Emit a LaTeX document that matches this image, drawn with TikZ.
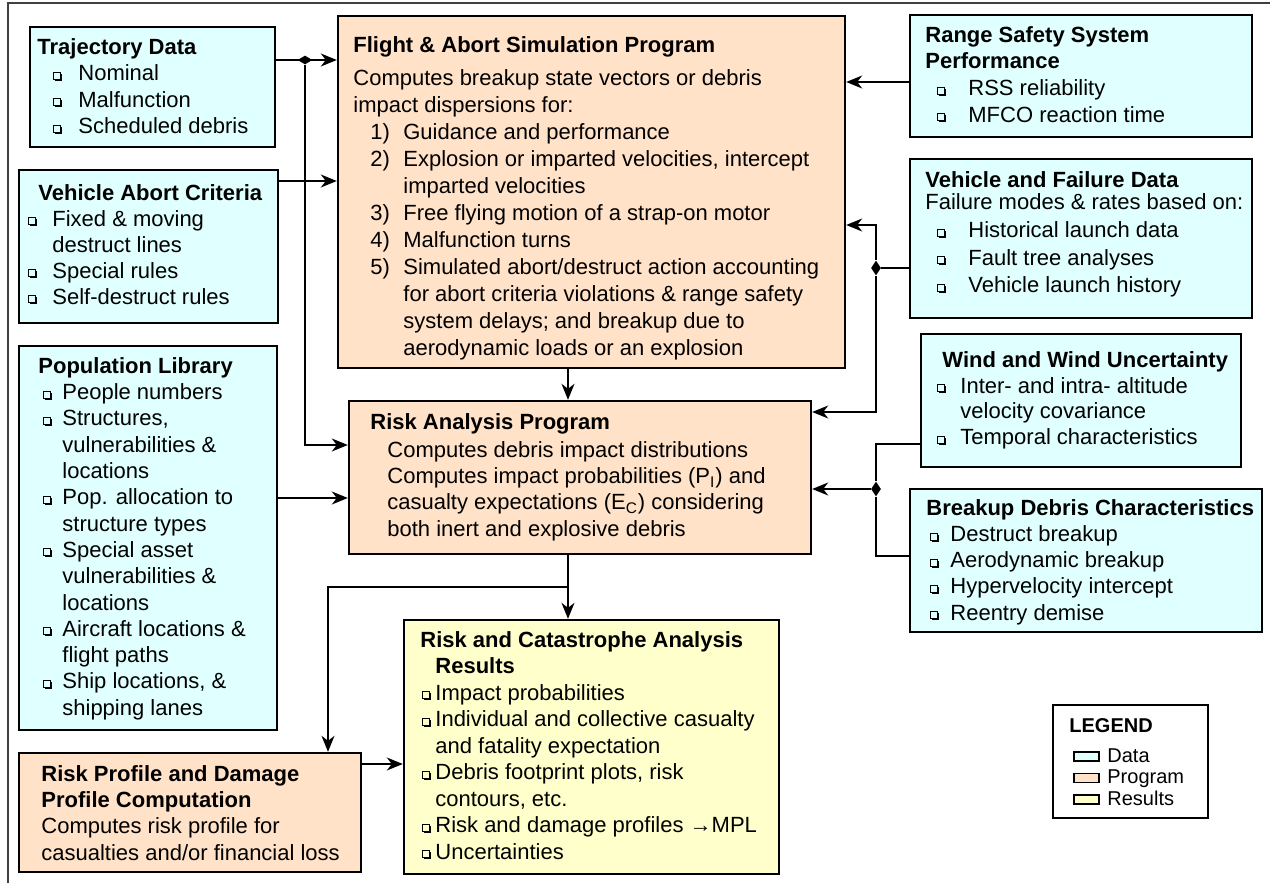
\documentclass[tikz,border=0pt]{standalone}
\usepackage{fontspec}
\setmainfont{Liberation Sans}
\usetikzlibrary{arrows.meta,fit,shapes.geometric}
\definecolor{datacol}{RGB}{224,255,255}
\definecolor{progcol}{RGB}{255,226,200}
\definecolor{rescol}{RGB}{255,255,204}
\newcommand{\sqbox}{\tikz[baseline=0pt,x=1pt,y=1pt]{\draw[line width=0.35pt] (0,0.8) rectangle (3.5,4.3); \draw[line width=0.85pt] (0.8,0.4) -- (3.9,0.4) -- (3.9,3.5);}}
\newcommand{\bul}[1]{\makebox[#1][l]{\sqbox}}
\newcommand{\stepno}[1]{\hspace*{8.5pt}\makebox[16.5pt][l]{#1}}

\begin{document}
\begin{tikzpicture}[x=0.5pt,y=-0.5pt,
  box/.style={draw, line width=1.2pt, inner sep=0pt},
  databox/.style={box, fill=datacol},
  progbox/.style={box, fill=progcol},
  resbox/.style={box, fill=rescol},
  txt/.style={anchor=north west, inner sep=0pt, align=left, font=\fontsize{11}{13.2}\selectfont},
  conn/.style={line width=0.8pt},
  arr/.style={conn, -{Stealth[length=8pt,width=6.5pt,inset=2.5pt]}},
  junc/.style={diamond, fill, inner sep=0pt}]
\useasboundingbox (0,0) rectangle (1270,883);
\draw[line width=0.6pt, black!75] (1270,3) -- (8,3) -- (8,883);

% boxes
\node[databox, fit={(30,27) (275,147)}] (traj) {};
\node[databox, fit={(19,170) (278,323)}] (abort) {};
\node[databox, fit={(19,346) (277,730)}] (pop) {};
\node[databox, fit={(910,15) (1252,137)}] (rss) {};
\node[databox, fit={(910,159) (1252,318)}] (vfd) {};
\node[databox, fit={(921,334) (1241,467)}] (wind) {};
\node[databox, fit={(910,489) (1262,632)}] (bdc) {};
\node[progbox, fit={(338,16) (845,368)}] (flight) {};
\node[progbox, fit={(349,401) (811,554)}] (rap) {};
\node[progbox, fit={(19,753) (361,872)}] (rpd) {};
\node[resbox, fit={(404,620) (779,874)}] (res) {};
\node[box, fill=white, fit={(1053,705) (1208,818)}] (leg) {};

% texts
\node[txt] (traj-t) at (37,38) {\textbf{Trajectory Data}\\
  \hspace*{8pt}\bul{12.5pt}Nominal\\
  \hspace*{8pt}\bul{12.5pt}Malfunction\\
  \hspace*{8pt}\bul{12.5pt}Scheduled debris};
\node[txt, font=\fontsize{11}{13}\selectfont] (abort-t) at (28,184) {\hspace*{5pt}\textbf{Vehicle Abort Criteria}\\
  \bul{12pt}Fixed \& moving\\
  \hspace*{12pt}destruct lines\\
  \bul{12pt}Special rules\\
  \bul{12pt}Self-destruct rules};
\node[txt, font=\fontsize{11}{13.15}\selectfont] (pop-t) at (38,357) {\textbf{Population Library}\\
  \hspace*{2.5pt}\bul{9.5pt}People numbers\\
  \hspace*{2.5pt}\bul{9.5pt}Structures,\\
  \hspace*{12pt}vulnerabilities \&\\
  \hspace*{12pt}locations\\
  \hspace*{2.5pt}\bul{9.5pt}Pop. allocation to\\
  \hspace*{12pt}structure types\\
  \hspace*{2.5pt}\bul{9.5pt}Special asset\\
  \hspace*{12pt}vulnerabilities \&\\
  \hspace*{12pt}locations\\
  \hspace*{2.5pt}\bul{9.5pt}Aircraft locations \&\\
  \hspace*{12pt}flight paths\\
  \hspace*{2.5pt}\bul{9.5pt}Ship locations, \&\\
  \hspace*{12pt}shipping lanes};
\node[txt, font=\fontsize{11}{13.5}\selectfont] (flight-t) at (353,36) {\textbf{Flight \& Abort Simulation Program}\\[3pt]
  Computes breakup state vectors or debris\\
  impact dispersions for:\\
  \stepno{1)}Guidance and performance\\
  \stepno{2)}Explosion or imparted velocities, intercept\\
  \hspace*{25pt}imparted velocities\\
  \stepno{3)}Free flying motion of a strap-on motor\\
  \stepno{4)}Malfunction turns\\
  \stepno{5)}Simulated abort/destruct action accounting\\
  \hspace*{25pt}for abort criteria violations \& range safety\\
  \hspace*{25pt}system delays; and breakup due to\\
  \hspace*{25pt}aerodynamic loads or an explosion};
\node[txt, font=\fontsize{11}{13.3}\selectfont] (rss-t) at (925,26) {\textbf{Range Safety System}\\
  \textbf{Performance}\\
  \hspace*{6pt}\bul{15.5pt}RSS reliability\\
  \hspace*{6pt}\bul{15.5pt}MFCO reaction time};
\node[txt, font=\fontsize{11}{13.8}\selectfont] (vfd-t) at (925,171) {\textbf{Vehicle and Failure Data}\\[-2.5pt]
  Failure modes \& rates based on:\\
  \hspace*{6pt}\bul{15.5pt}Historical launch data\\
  \hspace*{6pt}\bul{15.5pt}Fault tree analyses\\
  \hspace*{6pt}\bul{15.5pt}Vehicle launch history};
\node[txt, font=\fontsize{11}{12.9}\selectfont] (wind-t) at (937,351) {\hspace*{2.5pt}\textbf{Wind and Wind Uncertainty}\\
  \bul{11.5pt}Inter- and intra- altitude\\
  \hspace*{11.5pt}velocity covariance\\
  \bul{11.5pt}Temporal characteristics};
\node[txt, font=\fontsize{11}{13.1}\selectfont] (bdc-t) at (926,499) {\textbf{Breakup Debris Characteristics}\\
  \hspace*{2pt}\bul{10pt}Destruct breakup\\
  \hspace*{2pt}\bul{10pt}Aerodynamic breakup\\
  \hspace*{2pt}\bul{10pt}Hypervelocity intercept\\
  \hspace*{2pt}\bul{10pt}Reentry demise};
\node[txt, font=\fontsize{11}{13.1}\selectfont] (rap-t) at (370,413) {\textbf{Risk Analysis Program}\\[1pt]
  \hspace*{8.5pt}Computes debris impact distributions\\
  \hspace*{8.5pt}Computes impact probabilities (P\textsubscript{I}) and\\
  \hspace*{8.5pt}casualty expectations (E\textsubscript{C}) considering\\
  \hspace*{8.5pt}both inert and explosive debris};
\node[txt, font=\fontsize{11}{13.15}\selectfont] (rpd-t) at (41,765) {\textbf{Risk Profile and Damage}\\
  \textbf{Profile Computation}\\
  Computes risk profile for\\
  casualties and/or financial loss};
\node[txt, font=\fontsize{11}{13.25}\selectfont] (res-t) at (420,631) {\textbf{Risk and Catastrophe Analysis}\\
  \hspace*{7.5pt}\textbf{Results}\\
  \hspace*{1pt}\bul{6.5pt}Impact probabilities\\
  \hspace*{1pt}\bul{6.5pt}Individual and collective casualty\\
  \hspace*{7.5pt}and fatality expectation\\
  \hspace*{1pt}\bul{6.5pt}Debris footprint plots, risk\\
  \hspace*{7.5pt}contours, etc.\\
  \hspace*{1pt}\bul{6.5pt}Risk and damage profiles →MPL\\
  \hspace*{1pt}\bul{6.5pt}Uncertainties};

% legend
\node[txt, font=\fontsize{10}{10.75}\selectfont\bfseries] (leg-t) at (1069,718) {LEGEND};
\foreach \c [count=\i from 0] in {datacol,progcol,rescol}
  \draw[box, line width=0.9pt, fill=\c] (1074,{752+21.5*\i}) rectangle (1099,{761+21.5*\i});
\node[txt, font=\fontsize{10}{10.75}\selectfont] (leg-k) at (1107,748) {Data\\Program\\Results};

% connectors
\node[junc, minimum width=7.5pt, minimum height=4.5pt] (j1) at (305,60) {};
\node[junc, minimum width=5pt, minimum height=7.5pt] (j2) at (876,268) {};
\node[junc, minimum width=5pt, minimum height=7.5pt] (j3) at (876,489) {};
\draw[arr] (traj.east |- j1) -- (flight.west |- j1);
\draw[arr] (j1) |- (rap.west |- 0,445);
\draw[arr] (abort.east |- 0,181) -- (flight.west |- 0,181);
\draw[arr] (pop.east |- 0,498) -- (rap.west |- 0,498);
\draw[arr] (rss.west |- 0,82) -- (flight.east |- 0,82);
\draw[conn] (vfd.west |- j2) -- (j2);
\draw[arr] (j2) |- (flight.east |- 0,225);
\draw[arr] (j2) |- (rap.east |- 0,412);
\draw[conn] (wind.west |- 0,444) -| (j3) |- (bdc.west |- 0,556);
\draw[arr] (j3) -- (rap.east |- j3);
\draw[arr] (flight.south -| 568,0) -- (rap.north -| 568,0);
\draw[arr] (rap.south -| 568,0) -- (res.north -| 568,0);
\coordinate (br) at (568,587);
\draw[arr] (br) -| (rpd.north -| 328,0);
\draw[arr] (rpd.east |- 0,764) -- (res.west |- 0,764);
\end{tikzpicture}
\end{document}
